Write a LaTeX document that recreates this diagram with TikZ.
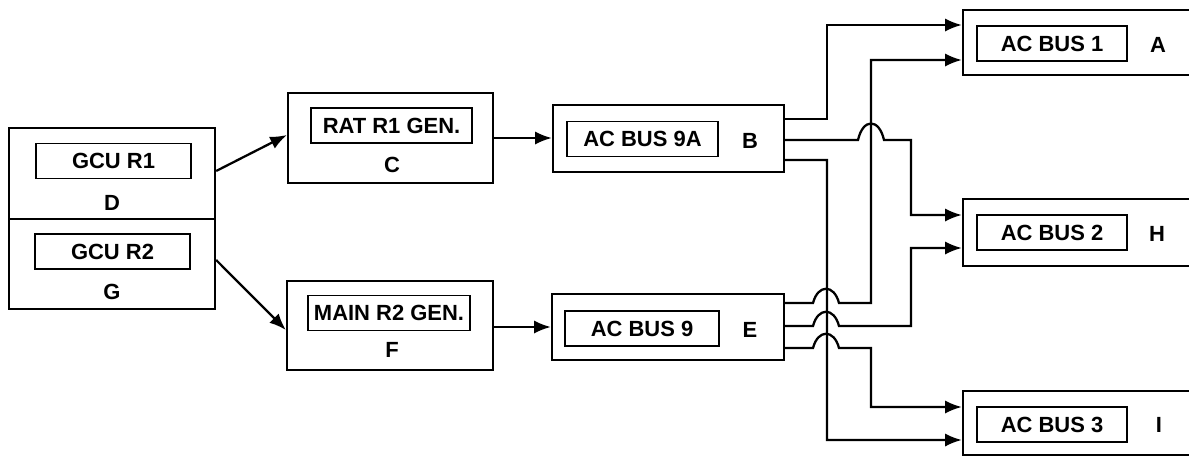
\documentclass[tikz,border=0pt]{standalone}
\usepackage{fontspec}
\setmainfont{Liberation Sans}
\usetikzlibrary{arrows.meta,calc}
\begin{document}
\begin{tikzpicture}[x=0.02cm,y=-0.02cm,
  obox/.style={draw,line width=1.3pt,inner sep=0pt},
  ibox/.style={draw,line width=0.8pt,inner sep=0pt,minimum height=35*0.02cm,
    font=\fontsize{12.5}{14}\selectfont\bfseries},
  lbl/.style={inner sep=0pt,font=\fontsize{12.5}{14}\selectfont\bfseries},
  conn/.style={line width=1.3pt,-{Latex[length=9.5pt,width=7.5pt]}}]
\useasboundingbox (0,0) rectangle (1189,457);
\clip (0,0) rectangle (1189,457);
% left boxes
\node[obox,minimum width=206*0.02cm,minimum height=91*0.02cm] (D) at (112,173.5) {};
\node[obox,minimum width=206*0.02cm,minimum height=90*0.02cm] (G) at (112,264) {};
\node[ibox,minimum width=155*0.02cm] (gcu1) at (113.5,161) {GCU R1};
\node[ibox,minimum width=155*0.02cm] (gcu2) at (112.5,251.5) {GCU R2};
\node[lbl] (Dl) at (112,203) {D};
\node[lbl] (Gl) at (112,292) {G};
% generators
\node[obox,minimum width=205*0.02cm,minimum height=90*0.02cm] (C) at (390.5,138) {};
\node[obox,minimum width=206*0.02cm,minimum height=89*0.02cm] (F) at (390,325.5) {};
\node[ibox,minimum width=161*0.02cm] (rat) at (391.5,125.5) {RAT R1 GEN.};
\node[ibox,minimum width=162*0.02cm] (main) at (389,313) {MAIN R2 GEN.};
\node[lbl] (Cl) at (392,165) {C};
\node[lbl] (Fl) at (392,350) {F};
% buses 9A / 9
\node[obox,minimum width=231*0.02cm,minimum height=67*0.02cm] (B) at (668.5,138.5) {};
\node[obox,minimum width=232*0.02cm,minimum height=66*0.02cm] (E) at (668,327) {};
\node[ibox,minimum width=151*0.02cm] (bus9a) at (642.5,139) {AC BUS 9A};
\node[ibox,minimum width=154*0.02cm] (bus9) at (642,328.5) {AC BUS 9};
\node[lbl] (Bl) at (750,141) {B};
\node[lbl] (El) at (750,330) {E};
% right buses
\node[obox,minimum width=267*0.02cm,minimum height=65*0.02cm] (A) at (1096.5,42.5) {};
\node[obox,minimum width=267*0.02cm,minimum height=67*0.02cm] (H) at (1096.5,232.5) {};
\node[obox,minimum width=267*0.02cm,minimum height=64*0.02cm] (I) at (1096.5,423) {};
\node[ibox,minimum width=150*0.02cm] (bus1) at (1052,43.5) {AC BUS 1};
\node[ibox,minimum width=150*0.02cm] (bus2) at (1052,232.5) {AC BUS 2};
\node[ibox,minimum width=150*0.02cm] (bus3) at (1052,424.5) {AC BUS 3};
\node[lbl] (Al) at (1158,45) {A};
\node[lbl] (Hl) at (1157,234) {H};
\node[lbl] (Il) at (1159,425) {I};
% connectors
\draw[conn] ($(D.east)+(0,-2.5)$) -- ($(C.west)+(0,-3)$);
\draw[conn] ($(G.east)+(0,-4)$) -- ($(F.west)+(0,4.5)$);
\draw[conn] (C.east) -- (C.east -| B.west);
\draw[conn] ($(F.east)+(0,1.5)$) -- ($(F.east -| E.west)+(0,1.5)$);
% outputs of B
\draw[conn] ($(B.east)+(0,-19.5)$) -- (827,119) |- ($(A.west)+(0,-17.5)$);
\draw[conn] ($(B.east)+(0,1.5)$) -- (858,140) .. controls (863,118) and (879,118) .. (884,140)
  -- (911,140) |- ($(H.west)+(0,-17.5)$);
\draw[conn] ($(B.east)+(0,21.5)$) -- (827,160) |- ($(I.west)+(0,17)$);
% outputs of E
\draw[conn] ($(E.east)+(0,-24)$) -- (813,303) .. controls (818,284) and (834,284) .. (839,303)
  -- (871,303) |- ($(A.west)+(0,17.5)$);
\draw[conn] ($(E.east)+(0,-1)$) -- (813,326) .. controls (818,307) and (834,307) .. (839,326)
  -- (911,326) |- ($(H.west)+(0,15.5)$);
\draw[conn] ($(E.east)+(0,21)$) -- (813,348) .. controls (818,329) and (834,329) .. (839,348)
  -- (871,348) |- ($(I.west)+(0,-16)$);
\end{tikzpicture}
\end{document}
